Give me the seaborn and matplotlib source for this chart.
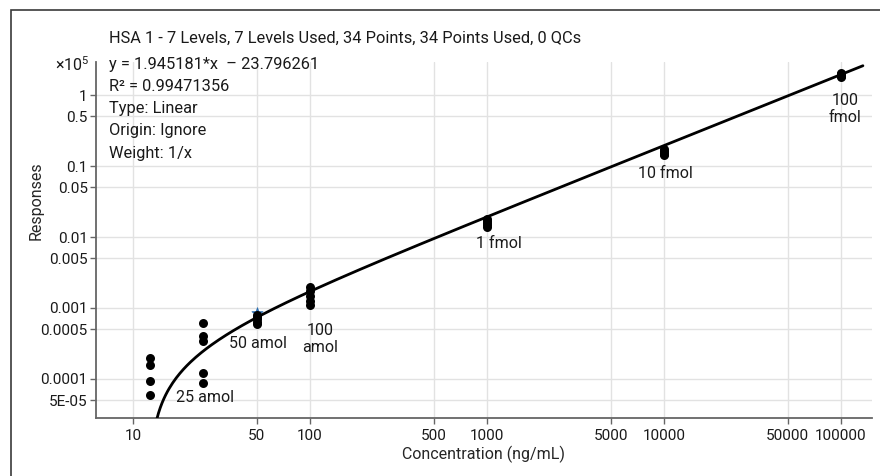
import numpy as np
import pandas as pd
import matplotlib
matplotlib.use("Agg")
import matplotlib.pyplot as plt
from matplotlib.lines import Line2D
from matplotlib.ticker import FixedLocator, FixedFormatter, NullLocator
import seaborn as sns

# ---- calibration data (responses shown in units of 1e5) ----
conc_12_5 = [12.5, 12.5, 12.5, 12.5]
resp_12_5 = [1.98e-4, 1.57e-4, 9.4e-5, 5.95e-5]
conc_25 = [25, 25, 25, 25, 25]
resp_25 = [6.15e-4, 4.03e-4, 3.43e-4, 1.22e-4, 8.8e-5]
conc_50 = [50, 50, 50, 50, 50]
resp_50 = [8.0e-4, 7.4e-4, 6.9e-4, 6.4e-4, 5.9e-4]
conc_100 = [100, 100, 100, 100, 100]
resp_100 = [1.98e-3, 1.73e-3, 1.48e-3, 1.26e-3, 1.10e-3]
conc_1000 = [1000, 1000, 1000, 1000, 1000]
resp_1000 = [0.0178, 0.0168, 0.0158, 0.0148, 0.0138]
conc_10000 = [10000, 10000, 10000, 10000, 10000]
resp_10000 = [0.172, 0.163, 0.155, 0.148, 0.142]
conc_100000 = [100000, 100000, 100000, 100000, 100000]
resp_100000 = [2.05, 1.98, 1.90, 1.84, 1.78]

# highlighted point
highlight_conc = [50]
highlight_resp = [8.6e-4]

# linear fit: y = slope*x + intercept (raw responses)
slope = 1.945181
intercept = -23.796261
r_squared = 0.99471356
resp_scale = 1e5
fit_x_range = (13.0, 133000.0)

# level annotations
level_labels = ["25 amol", "50 amol", "100\namol", "1 fmol", "10 fmol", "100\nfmol"]
label_x = [17.5, 34.8, 114, 1169, 10140, 105000]
label_y = [5.57e-5, 3.21e-4, 3.66e-4, 8.2e-3, 0.0797, 0.635]
label_ha = ["left", "left", "center", "center", "center", "center"]

x_ticks = [10, 50, 100, 500, 1000, 5000, 10000, 50000, 100000]
x_tick_labels = ["10", "50", "100", "500", "1000", "5000", "10000", "50000", "100000"]
y_ticks = [1, 0.5, 0.1, 0.05, 0.01, 0.005, 0.001, 0.0005, 0.0001, 5e-5]
y_tick_labels = ["1", "0.5", "0.1", "0.05", "0.01", "0.005", "0.001", "0.0005", "0.0001", "5E-05"]

title_text = "HSA 1 - 7 Levels, 7 Levels Used, 34 Points, 34 Points Used, 0 QCs"
info_lines = [
    f"y = {slope:.6f}*x  \u2013 {abs(intercept):.6f}",
    f"R\u00b2 = {r_squared:.8f}",
    "Type: Linear",
    "Origin: Ignore",
    "Weight: 1/x",
]

# ---- styling ----
sns.set_theme(style="whitegrid")
FONT = "Roboto"
plt.rcParams["font.family"] = [FONT, "DejaVu Sans"]
plt.rcParams["mathtext.fontset"] = "custom"
plt.rcParams["mathtext.rm"] = FONT
plt.rcParams["mathtext.it"] = FONT
plt.rcParams["text.color"] = "#1a1a1a"

points = pd.DataFrame({
    "conc": conc_12_5 + conc_25 + conc_50 + conc_100 + conc_1000 + conc_10000 + conc_100000,
    "resp": resp_12_5 + resp_25 + resp_50 + resp_100 + resp_1000 + resp_10000 + resp_100000,
})

fit_x = np.geomspace(fit_x_range[0], fit_x_range[1], 400)
fit = pd.DataFrame({"conc": fit_x, "resp": (slope * fit_x + intercept) / resp_scale})

fig = plt.figure(figsize=(8.81, 4.76), dpi=100)
fig.patch.set_facecolor("white")
fig.patch.set_linewidth(0)
ax = fig.add_axes([96 / 881, 1 - 418 / 476, (872 - 96) / 881, (418 - 62) / 476])
ax.set_xscale("log")
ax.set_yscale("log")
ax.set_xlim(6.18, 149700)
ax.set_ylim(2.82e-5, 2.92)

sns.lineplot(data=fit, x="conc", y="resp", ax=ax, color="black", linewidth=2.0,
             sort=True, estimator=None, zorder=3)
sns.scatterplot(x=highlight_conc, y=highlight_resp, ax=ax, marker="*", s=70,
                color="#2a6db0", edgecolor="#2a6db0", linewidth=0.6, zorder=2)
sns.scatterplot(data=points, x="conc", y="resp", ax=ax, color="black", s=42,
                edgecolor="black", linewidth=0, zorder=4)

for txt, lx, ly, ha in zip(level_labels, label_x, label_y, label_ha):
    ax.text(lx, ly, txt, ha=ha, va="center", fontsize=11.5, linespacing=1.12,
            color="#1a1a1a", zorder=5)

ax.xaxis.set_major_locator(FixedLocator(x_ticks))
ax.xaxis.set_major_formatter(FixedFormatter(x_tick_labels))
ax.xaxis.set_minor_locator(NullLocator())
ax.yaxis.set_major_locator(FixedLocator(y_ticks))
ax.yaxis.set_major_formatter(FixedFormatter(y_tick_labels))
ax.yaxis.set_minor_locator(NullLocator())

ax.grid(True, which="major", color="#e2e2e2", linewidth=1.0)
ax.set_axisbelow(True)
for side in ("top", "right"):
    ax.spines[side].set_visible(False)
for side in ("left", "bottom"):
    ax.spines[side].set_visible(True)
    ax.spines[side].set_color("#666666")
    ax.spines[side].set_linewidth(1.3)
ax.tick_params(axis="both", which="major", length=4, width=1.0, color="#666666",
               labelsize=11, labelcolor="#1a1a1a", pad=2, bottom=True, left=True)
ax.tick_params(axis="x", pad=4)

ax.set_xlabel("Concentration (ng/mL)", fontsize=11.5, labelpad=2)
ax.set_ylabel("Responses", fontsize=11.5)
ax.yaxis.set_label_coords(-0.068, 0.61)

# fit summary and header
fig.text(109 / 881, 1 - 38 / 476, title_text, ha="left", va="center", fontsize=11.75)
for i, line in enumerate(info_lines):
    fig.text(109 / 881, 1 - (64 + 22.3 * i) / 476, line, ha="left", va="center", fontsize=11.75)
fig.text(89 / 881, 1 - 65 / 476, r"$\times10^5$", ha="right", va="center", fontsize=11.5)

# panel frame: a single open polyline along the top and left edges
frame_color = "#3a3a3a"
frame = Line2D([880 / 881, 11 / 881, 11 / 881], [1 - 10 / 476, 1 - 10 / 476, 0.0],
               color=frame_color, linewidth=1.2, solid_capstyle="butt",
               solid_joinstyle="miter", transform=fig.transFigure)
fig.lines.append(frame)

fig.savefig("out.png", dpi=100, facecolor="white")
